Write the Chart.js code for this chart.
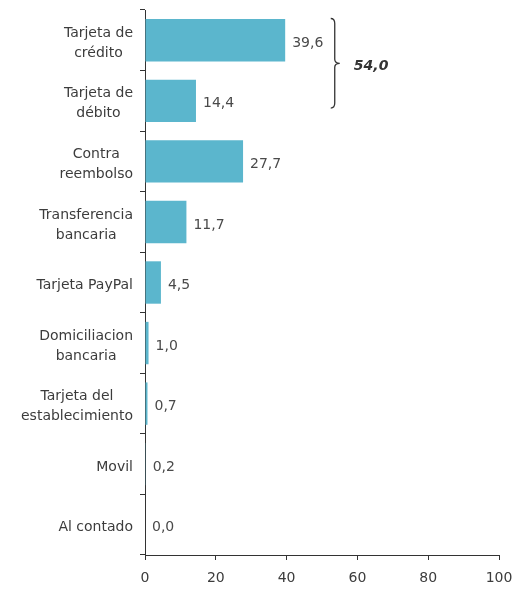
<!DOCTYPE html>
<html>
<head>
<meta charset="utf-8">
<script src="https://cdn.jsdelivr.net/npm/chart.js@4"></script>
<style>
  html, body { margin: 0; padding: 0; background: #ffffff; }
  #wrap { width: 516px; height: 590px; position: relative; }
</style>
</head>
<body>
<div id="wrap"><canvas id="c" width="516" height="590"></canvas></div>
<script>
// ---- data ----
const categories = [
  ["Tarjeta de", "crédito"],
  ["Tarjeta de", "débito"],
  ["Contra", "reembolso"],
  ["Transferencia", "bancaria"],
  ["Tarjeta PayPal"],
  ["Domiciliacion", "bancaria"],
  ["Tarjeta del", "establecimiento"],
  ["Movil"],
  ["Al contado"]
];
const values = [39.6, 14.4, 27.7, 11.7, 4.5, 1.0, 0.7, 0.2, 0.0];
const xTicks = [0, 20, 40, 60, 80, 100];
const braceGroup = [0, 1];          // categories grouped by the brace
const braceTotal = 54.0;

const FONT = "'DejaVu Sans', Verdana, sans-serif";
const fmt = v => v.toFixed(1).replace('.', ',');

const annotate = {
  id: 'annotate',
  afterDraw(chart) {
    const ctx = chart.ctx;
    const xs = chart.scales.x, ys = chart.scales.y;
    const meta = chart.getDatasetMeta(0);
    ctx.save();
    // category labels: block right-aligned, lines centered
    ctx.font = "14px " + FONT;
    ctx.fillStyle = "#3c3c3c";
    ctx.textAlign = "center";
    ctx.textBaseline = "middle";
    const right = xs.left - 12;
    const lh = 20;
    categories.forEach((lines, i) => {
      const yc = ys.getPixelForValue(i) + 3;
      const w = Math.max(...lines.map(l => ctx.measureText(l).width));
      const cx = right - w / 2;
      const y0 = yc - (lines.length - 1) * lh / 2;
      lines.forEach((l, k) => ctx.fillText(l, cx, y0 + k * lh));
    });
    // value labels
    ctx.fillStyle = "#4a4a4a";
    ctx.textAlign = "left";
    meta.data.forEach((bar, i) => {
      ctx.fillText(fmt(values[i]), bar.x + 7, bar.y + 3);
    });
    // brace
    const step = ys.getPixelForValue(1) - ys.getPixelForValue(0);
    const top = ys.getPixelForValue(braceGroup[0]) - 0.36 * step;
    const bot = ys.getPixelForValue(braceGroup[braceGroup.length - 1]) + 0.12 * step;
    const mid = (top + bot) / 2;
    const bx = xs.getPixelForValue(53.6);
    ctx.strokeStyle = "#333333";
    ctx.lineWidth = 1.3;
    ctx.beginPath();
    ctx.moveTo(bx - 4, top);
    ctx.quadraticCurveTo(bx, top, bx, top + 5);
    ctx.lineTo(bx, mid - 4);
    ctx.quadraticCurveTo(bx, mid, bx + 5, mid);
    ctx.quadraticCurveTo(bx, mid, bx, mid + 4);
    ctx.lineTo(bx, bot - 5);
    ctx.quadraticCurveTo(bx, bot, bx - 4, bot);
    ctx.stroke();
    // brace total
    ctx.font = "italic bold 14px " + FONT;
    ctx.fillStyle = "#333333";
    ctx.textAlign = "left";
    ctx.fillText(fmt(braceTotal), xs.getPixelForValue(59), mid + 3);
    ctx.restore();
  }
};

new Chart(document.getElementById('c'), {
  type: 'bar',
  data: {
    labels: categories,
    datasets: [{
      data: values,
      backgroundColor: '#5bb6cd',
      borderWidth: 0,
      categoryPercentage: 1.0,
      barPercentage: 0.7
    }]
  },
  options: {
    indexAxis: 'y',
    responsive: false,
    devicePixelRatio: 1,
    animation: false,
    layout: { padding: { top: 10, right: 17, bottom: 0, left: 0 } },
    plugins: { legend: { display: false }, tooltip: { enabled: false } },
    scales: {
      x: {
        min: 0, max: 100,
        afterBuildTicks: s => { s.ticks = xTicks.map(v => ({ value: v })); },
        afterFit: s => { s.height = 35; s.paddingRight = 0; s.paddingLeft = 0; },
        ticks: { font: { family: FONT, size: 14 }, color: '#3c3c3c', padding: 10 },
        grid: { drawOnChartArea: false, drawTicks: true, tickLength: 5, color: '#333333' },
        border: { display: true, color: '#333333', width: 1 }
      },
      y: {
        afterFit: s => { s.width = 145; s.paddingTop = 0; s.paddingBottom = 0; },
        ticks: { display: false },
        grid: { offset: true, drawOnChartArea: false, drawTicks: true, tickLength: 5, color: '#333333' },
        border: { display: true, color: '#333333', width: 1 }
      }
    }
  },
  plugins: [annotate]
});
</script>
</body>
</html>
